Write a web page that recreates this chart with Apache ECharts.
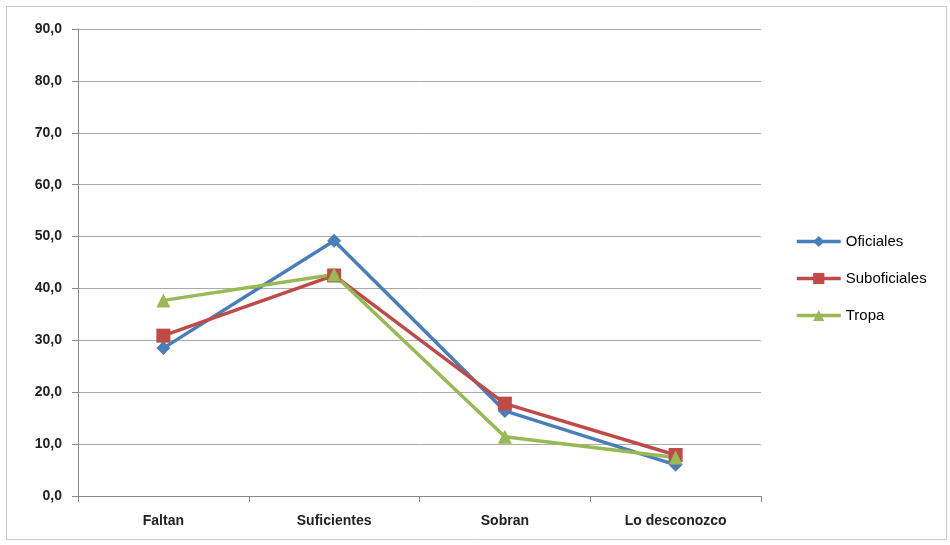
<!DOCTYPE html>
<html><head><meta charset="utf-8">
<script src="https://cdn.jsdelivr.net/npm/echarts@6/dist/echarts.min.js"></script>
<style>html,body{margin:0;padding:0;background:#fff}#c{width:950px;height:545px}</style>
</head><body><div id="c"></div>
<script>
const categories = ['Faltan', 'Suficientes', 'Sobran', 'Lo desconozco'];
const oficiales = [28.5, 49.2, 16.4, 6.0];
const suboficiales = [30.9, 42.5, 17.8, 7.9];
const tropa = [37.7, 42.7, 11.4, 7.4];
const seriesNames = ['Oficiales', 'Suboficiales', 'Tropa'];

const chart = echarts.init(document.getElementById('c'));
const font = 'Liberation Sans';
function mk(name, data, color, symbol, size) {
  return {
    name, type: 'line', data, symbol, symbolSize: size,
    lineStyle: { color, width: 3.5 },
    itemStyle: { color },
    z: 2
  };
}
chart.setOption({
  animation: false,
  graphic: [{ type: 'rect', shape: { x: 6.5, y: 6.5, width: 940, height: 533 }, style: { fill: 'none', stroke: '#c8c8c8', lineWidth: 1 } }],
  grid: { left: 78, right: 189, top: 29, bottom: 49 },
  legend: {
    orient: 'vertical', left: 790, top: 229, itemGap: 22, itemWidth: 44, itemHeight: 14,
    lineStyle: { width: 3.5 },
    textStyle: { fontFamily: font, fontSize: 15, color: '#000' },
    data: seriesNames
  },
  xAxis: {
    type: 'category', data: categories, boundaryGap: true,
    axisLine: { lineStyle: { color: '#888', width: 1 } },
    axisTick: { show: true, length: 6, lineStyle: { color: '#888' } },
    axisLabel: { fontFamily: font, fontSize: 14, fontWeight: 'bold', color: '#222', margin: 18 }
  },
  yAxis: {
    type: 'value', min: 0, max: 90, interval: 10,
    axisLine: { show: true, lineStyle: { color: '#888' } },
    axisTick: { show: true, length: 6, lineStyle: { color: '#888' } },
    splitLine: { lineStyle: { color: '#aaa', width: 1 } },
    axisLabel: { fontFamily: font, fontSize: 14, fontWeight: 'bold', color: '#222', margin: 16,
      formatter: v => v.toFixed(1).replace('.', ',') }
  },
  series: [
    mk('Oficiales', oficiales, '#4A7EBB', 'diamond', 14),
    mk('Suboficiales', suboficiales, '#BE4B48', 'rect', 14),
    mk('Tropa', tropa, '#98B954', 'triangle', 14)
  ]
});
</script></body></html>
